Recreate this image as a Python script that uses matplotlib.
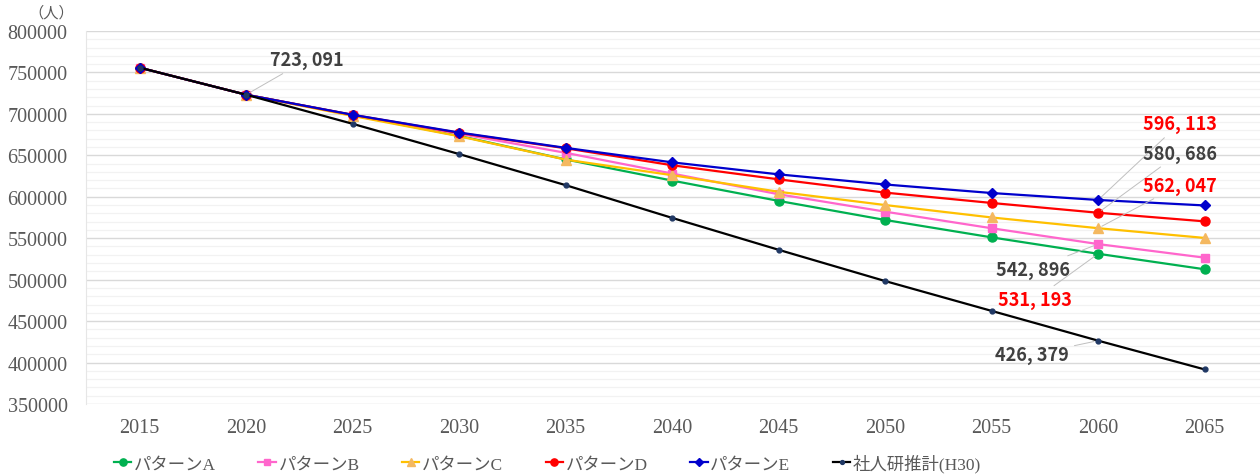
import matplotlib
matplotlib.use('Agg')
import matplotlib.pyplot as plt
from matplotlib.ticker import MultipleLocator

# ==========================================
# Data
# ==========================================
years = [2015, 2020, 2025, 2030, 2035, 2040, 2045, 2050, 2055, 2060, 2065]

pattern_a = [755733, 723091, 698500, 673500, 645000, 619500, 595000, 572000, 551000, 531193, 512500]
pattern_b = [755733, 723091, 698500, 676000, 653000, 628000, 603000, 582000, 562000, 542896, 526500]
pattern_c = [755733, 723091, 697500, 673000, 644800, 626000, 606000, 590000, 575000, 562047, 550300]
pattern_d = [755733, 723091, 698800, 677000, 658500, 638000, 621000, 605000, 592500, 580686, 570300]
pattern_e = [755733, 723091, 698900, 677500, 659000, 641500, 627000, 614800, 604500, 596113, 589500]
ipss_h30 = [755733, 723091, 688000, 651500, 614000, 574500, 536000, 498300, 462300, 426379, 391700]

series_names = ['パターンA', 'パターンB', 'パターンC', 'パターンD', 'パターンE', '社人研推計(H30)']

# ==========================================
# Styling
# ==========================================
SERIF = ['Liberation Serif', 'Noto Sans CJK JP']
LABEL_FONT = ['Noto Sans CJK JP', 'DejaVu Sans']
TICK_COLOR = '#595959'

styles = [
    dict(color='#00B050', marker='o', ms=6.5),
    dict(color='#FF66CC', marker='s', ms=6),
    dict(color='#FFC000', marker='^', ms=6.5, mfc='#F4B860', mec='#F4B860'),
    dict(color='#FF0000', marker='o', ms=6.5),
    dict(color='#0000CC', marker='D', ms=5),
    dict(color='#000000', marker='o', ms=3.5, mfc='#203864', mec='#203864'),
]

fig = plt.figure(figsize=(12.6, 4.77), dpi=100)
ax = fig.add_axes([0.068, 0.151, 0.932, 0.782])

all_series = [pattern_a, pattern_b, pattern_c, pattern_d, pattern_e, ipss_h30]
for vals, name, st in zip(all_series, series_names, styles):
    ax.plot(years, vals, lw=1.6, label=name, **st)

ax.set_xlim(2012.47, 2067.6)
ax.set_ylim(350000, 800000)
ax.set_xticks(years)
ax.yaxis.set_major_locator(MultipleLocator(50000))
ax.yaxis.set_minor_locator(MultipleLocator(10000))

ax.grid(True, which='major', axis='y', color='#D9D9D9', lw=1.0)
ax.grid(True, which='minor', axis='y', color='#F2F2F2', lw=0.9)
ax.set_axisbelow(True)

for s in ['top', 'right', 'bottom']:
    ax.spines[s].set_visible(False)
ax.spines['left'].set_color('#E6E6E6')

ax.tick_params(axis='both', which='both', length=0, colors=TICK_COLOR)
ax.tick_params(axis='y', pad=13)
ax.tick_params(axis='x', pad=10)
for lab in ax.get_xticklabels() + ax.get_yticklabels():
    lab.set_fontfamily(SERIF)
    lab.set_fontsize(14.5)

fig.text(0.041, 0.972, '（人）', family=SERIF, fontsize=11, color=TICK_COLOR,
         ha='center', va='center')

# ==========================================
# Data labels with leader lines
# ==========================================
# (series, year index, text colour, offset in points, ha)
labels = [
    (pattern_a, 1, '#404040', (17, 25), 'left'),
    (pattern_e, 9, '#FF0000', (32, 55), 'left'),
    (pattern_d, 9, '#404040', (32, 43), 'left'),
    (pattern_c, 9, '#FF0000', (32, 31), 'left'),
    (pattern_b, 9, '#404040', (-20, -18), 'right'),
    (pattern_a, 9, '#FF0000', (-19, -33), 'right'),
    (ipss_h30, 9, '#404040', (-21, -10), 'right'),
]
for vals, i, col, off, ha in labels:
    txt = f'{vals[i] // 1000}, {vals[i] % 1000:03d}'
    ax.annotate(txt, xy=(years[i], vals[i]), xytext=off, textcoords='offset points',
                ha=ha, va='center', fontsize=13, fontweight='bold', color=col,
                family=LABEL_FONT,
                arrowprops=dict(arrowstyle='-', color='#BFBFBF', lw=0.7,
                                shrinkA=2, shrinkB=3))

# ==========================================
# Legend
# ==========================================
leg = fig.legend(loc='lower left', bbox_to_anchor=(0.078, -0.025), ncol=6,
                 frameon=False, handlelength=1.0, handletextpad=0.15,
                 columnspacing=2.45, markerscale=0.8,
                 prop=dict(family=SERIF, size=12.5))
for t in leg.get_texts():
    t.set_color(TICK_COLOR)

plt.savefig('out.png', dpi=100)
